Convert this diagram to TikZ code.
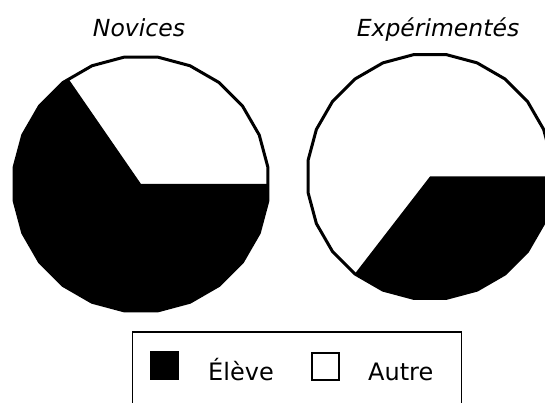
\documentclass[tikz,border=0pt]{standalone}
\usepackage{fontspec}
\setmainfont{DejaVu Sans}
\usetikzlibrary{shapes.geometric}
\tikzset{
  pie/.style={regular polygon, regular polygon sides=24, draw=black, fill=white,
    line width=3pt, inner sep=0pt, outer sep=0pt},
  title/.style={anchor=base, inner sep=0pt, font=\fontsize{23.5}{28}\selectfont\itshape},
  legtext/.style={anchor=base west, inner sep=0pt, font=\fontsize{24}{28}\selectfont},
  swatch/.style={rectangle, minimum width=29pt, minimum height=29.5pt, inner sep=0pt, outer sep=0pt}
}
\begin{document}
\begin{tikzpicture}[x=1pt,y=1pt]
\useasboundingbox (0,0) rectangle (545,403);
\clip (0,0) rectangle (545,403);
\fill[white] (0,0) rectangle (545,403);
% titles
\node[title] (tnov) at (139,366) {Novices};
\node[title] (texp) at (438,366) {Expérimentés};
% pies
\node[pie, minimum size=256pt,
  path picture={\fill[black] (path picture bounding box.center) -- ++(124.6:300pt)
     arc[start angle=124.6, end angle=360, radius=300pt] -- cycle;}]
  (novices) at (141,219) {};
\node[pie, minimum size=246pt,
  path picture={\fill[black] (path picture bounding box.center) -- ++(-127.7:300pt)
     arc[start angle=-127.7, end angle=0, radius=300pt] -- cycle;}]
  (experts) at (430,226.5) {};
% legend
\node[draw=black, line width=1.5pt, rectangle, minimum width=329pt, minimum height=100pt,
  anchor=north west, inner sep=0pt] (legend) at (131.5,71.5) {};
\node[swatch, fill=black] (sweleve) at (164.6,37.3) {};
\node[legtext] (leleve) at (208,22) {Élève};
\node[swatch, draw=black, line width=2pt, fill=white, minimum width=27pt, minimum height=27.5pt] (swautre) at (325,36.7) {};
\node[legtext] (lautre) at (368,22) {Autre};
\end{tikzpicture}
\end{document}
